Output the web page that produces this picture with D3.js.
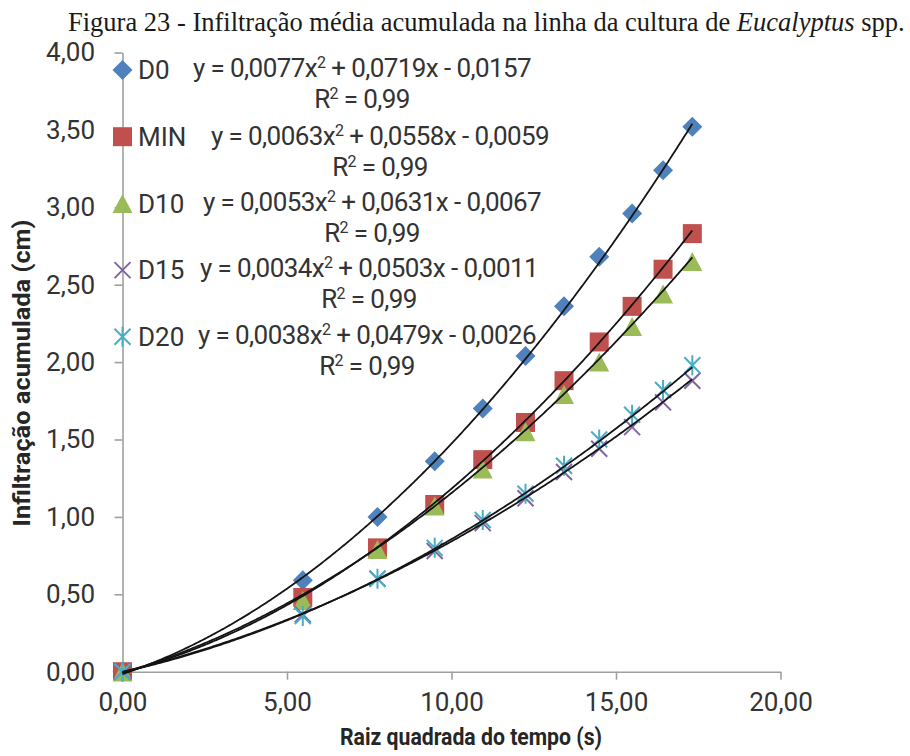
<!DOCTYPE html>
<html lang="pt">
<head>
<meta charset="utf-8">
<script src="https://cdn.jsdelivr.net/npm/d3@7"></script>
<style>
  html, body { margin: 0; padding: 0; background: #fff; }
  svg { display: block; }
</style>
</head>
<body>
<svg id="chart" width="910" height="756"></svg>
<script>
// Raiz quadrada do tempo (s^0.5) at each reading
const tempoRaiz = [0, 5.48, 7.75, 9.49, 10.95, 12.25, 13.42, 14.49, 15.49, 16.43, 17.32];

// Infiltração acumulada (cm) per treatment
const seriesNames = ["D0", "MIN", "D10", "D15", "D20"];
const infD0  = [0, 0.59, 1.00, 1.36, 1.70, 2.04, 2.36, 2.68, 2.96, 3.24, 3.52];
const infMIN = [0, 0.48, 0.80, 1.08, 1.37, 1.61, 1.88, 2.13, 2.36, 2.60, 2.83];
const infD10 = [0, 0.46, 0.79, 1.07, 1.31, 1.55, 1.79, 2.00, 2.23, 2.44, 2.65];
const infD15 = [0, 0.37, 0.60, 0.78, 0.96, 1.12, 1.29, 1.44, 1.58, 1.74, 1.88];
const infD20 = [0, 0.36, 0.60, 0.80, 0.98, 1.15, 1.33, 1.50, 1.66, 1.82, 1.98];

// Polynomial trendline coefficients y = a x^2 + b x + c
const coefA = [0.0077, 0.0063, 0.0053, 0.0034, 0.0038];
const coefB = [0.0719, 0.0558, 0.0631, 0.0503, 0.0479];
const coefC = [-0.0157, -0.0059, -0.0067, -0.0011, -0.0026];
const rSquared = [0.99, 0.99, 0.99, 0.99, 0.99];

// Axis ticks
const xTicks = [0, 5, 10, 15, 20];
const yTicks = [0, 0.5, 1, 1.5, 2, 2.5, 3, 3.5, 4];

const titleText = ["Figura 23 - Infiltração média acumulada na linha da cultura de ", "Eucalyptus", " spp."];
const xTitle = "Raiz quadrada do tempo (s)";
const yTitle = "Infiltração acumulada (cm)";

const seriesValues = [infD0, infMIN, infD10, infD15, infD20];
const colors = ["#4F81BD", "#C0504D", "#9BBB59", "#8064A2", "#4BACC6"];

// Marker shapes (filled or stroked paths centred on the point)
const markerDefs = [
  { d: "M0,-10L10,0L0,10L-10,0Z", fill: true },
  { d: "M-9.5,-9.5H9.5V9.5H-9.5Z", fill: true },
  { d: "M0,-9.5L10,9.5L-10,9.5Z", fill: true },
  { d: "M-8,-8L8,8M-8,8L8,-8", fill: false },
  { d: "M-8,-8L8,8M-8,8L8,-8M0,-10L0,10", fill: false }
];

// Trendline label anchors (centre x, first-line baseline y)
const eqLabelX = [362, 380, 372, 369, 367];
const eqLabelY = [77, 145, 211, 277, 344];

const svg = d3.select("#chart");
const fmt = v => v.toFixed(2).replace(".", ",");
const fmt4 = v => Math.abs(v).toFixed(4).replace(".", ",");

const x = d3.scaleLinear().domain([0, 20]).range([122.5, 780.5]);
const y = d3.scaleLinear().domain([0, 4]).range([671.7, 52.5]);

const axisColor = "#a0a0a0";
const textColor = "#333333";

// Title
const title = svg.append("text")
  .attr("x", 68).attr("y", 31)
  .attr("font-family", "'Liberation Serif', 'Times New Roman', serif")
  .attr("font-size", 26.5)
  .attr("fill", "#1a1a1a");
title.append("tspan").text(titleText[0]);
title.append("tspan").attr("font-style", "italic").text(titleText[1]);
title.append("tspan").text(titleText[2]);

// Axes
const yAxis = svg.append("g")
  .attr("transform", `translate(${x(0)},0)`)
  .call(d3.axisLeft(y).tickValues(yTicks).tickSize(8).tickSizeOuter(0)
    .tickPadding(19.5).tickFormat(fmt));
const xAxis = svg.append("g")
  .attr("transform", `translate(0,${y(0)})`)
  .call(d3.axisBottom(x).tickValues(xTicks).tickSize(8).tickSizeOuter(0)
    .tickPadding(13).tickFormat(fmt));

[yAxis, xAxis].forEach(g => {
  g.select(".domain").attr("stroke", axisColor).attr("stroke-width", 1.6);
  g.selectAll(".tick line").attr("stroke", axisColor).attr("stroke-width", 1.6);
  g.selectAll(".tick text")
    .attr("font-family", "Roboto, sans-serif")
    .attr("font-size", 26)
    .attr("fill", textColor);
});

// Axis titles
svg.append("text")
  .attr("x", 471).attr("y", 745)
  .attr("text-anchor", "middle")
  .attr("font-family", "Roboto, sans-serif")
  .attr("font-weight", "bold")
  .attr("font-size", 23)
  .attr("textLength", 262).attr("lengthAdjust", "spacingAndGlyphs")
  .attr("fill", "#262626")
  .text(xTitle);

svg.append("text")
  .attr("transform", "translate(30,373) rotate(-90)")
  .attr("text-anchor", "middle")
  .attr("font-family", "Roboto, sans-serif")
  .attr("font-weight", "bold")
  .attr("font-size", 23)
  .attr("textLength", 307).attr("lengthAdjust", "spacingAndGlyphs")
  .attr("fill", "#262626")
  .text(yTitle);

// Data markers
const drawMarker = (sel, i) => {
  const m = markerDefs[i];
  sel.attr("d", m.d)
    .attr("fill", m.fill ? colors[i] : "none")
    .attr("stroke", m.fill ? "none" : colors[i])
    .attr("stroke-width", m.fill ? 0 : 2);
};

seriesValues.forEach((vals, i) => {
  svg.append("g").selectAll("path")
    .data(vals.map((v, k) => [tempoRaiz[k], v]))
    .join("path")
    .attr("transform", d => `translate(${x(d[0])},${y(d[1])})`)
    .call(drawMarker, i);
});

// Polynomial trendlines
const line = d3.line().x(d => x(d[0])).y(d => y(d[1])).curve(d3.curveLinear);
const xMax = d3.max(tempoRaiz);
const samples = d3.range(0, xMax, 0.05).concat([xMax]);
seriesNames.forEach((name, i) => {
  const pts = samples.map(t => [t, coefA[i] * t * t + coefB[i] * t + coefC[i]]);
  svg.append("path")
    .attr("d", line(pts))
    .attr("fill", "none")
    .attr("stroke", "#141414")
    .attr("stroke-width", 1.8);
});

// Legend (on the left, over the value axis)
const legendY = seriesNames.map((_, i) => 70 + i * 66.7);
seriesNames.forEach((name, i) => {
  svg.append("path")
    .attr("transform", `translate(${x(0)},${legendY[i]})`)
    .call(drawMarker, i);
  svg.append("text")
    .attr("x", 138).attr("y", legendY[i] + 9.3)
    .attr("font-family", "Roboto, sans-serif")
    .attr("font-size", 26)
    .attr("fill", textColor)
    .text(name);
});

// Trendline equations and R²
seriesNames.forEach((name, i) => {
  const eq = svg.append("text")
    .attr("x", eqLabelX[i]).attr("y", eqLabelY[i])
    .attr("text-anchor", "middle")
    .attr("font-family", "Roboto, sans-serif")
    .attr("font-size", 26)
    .attr("letter-spacing", -0.6)
    .attr("fill", textColor);
  eq.append("tspan").text(`y = ${fmt4(coefA[i])}x`);
  eq.append("tspan").attr("dy", -9).attr("font-size", 16).text("2");
  eq.append("tspan").attr("dy", 9)
    .text(` + ${fmt4(coefB[i])}x ${coefC[i] < 0 ? "-" : "+"} ${fmt4(coefC[i])}`);

  const r2 = svg.append("text")
    .attr("x", eqLabelX[i]).attr("y", eqLabelY[i] + 31)
    .attr("text-anchor", "middle")
    .attr("font-family", "Roboto, sans-serif")
    .attr("font-size", 26)
    .attr("letter-spacing", -0.6)
    .attr("fill", textColor);
  r2.append("tspan").text("R");
  r2.append("tspan").attr("dy", -9).attr("font-size", 16).text("2");
  r2.append("tspan").attr("dy", 9).text(` = ${rSquared[i].toFixed(2).replace(".", ",")}`);
});
</script>
</body>
</html>
